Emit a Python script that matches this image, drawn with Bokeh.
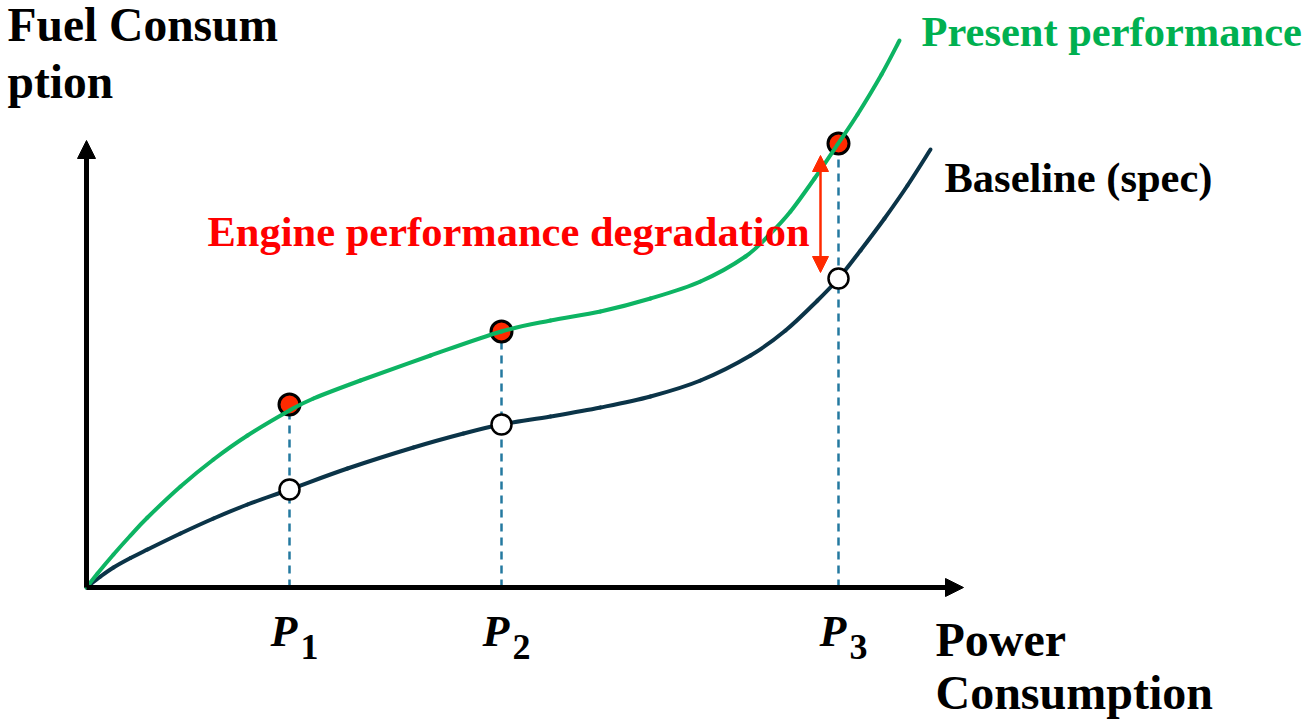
import numpy as np
from bokeh.plotting import figure
from bokeh.models import Range1d, Arrow, NormalHead
from bokeh.core.properties import value
from bokeh.embed import file_html
from bokeh.resources import INLINE

# ---- data (power on x, fuel consumption on y; origin at axes corner) ----
baseline_x = [0, 14, 27, 44, 61, 94, 127, 161, 203, 261, 327, 377, 415, 464, 514,
              564, 614, 664, 699, 731, 752, 774, 798, 821, 844]
baseline_y = [0, 11, 20, 29.5, 38, 54, 69, 83, 98, 119, 140, 154, 163, 171, 180,
              191, 207, 232, 257, 287, 309, 337, 369, 402, 438]

present_x = [0, 11, 27, 44, 61, 94, 127, 161, 203, 227, 274, 344, 415, 464, 514,
             564, 614, 659, 684, 704, 728, 751, 771, 795, 813]
present_y = [0, 14, 33, 52, 70, 101, 128, 152, 177, 189, 207, 232, 256, 267, 276,
             289, 306, 331, 354, 376, 409, 443, 473, 513, 547]

p_x = [203, 415, 752]
p_baseline = [98, 163, 309]
p_present = [183, 256, 444]
p_main = ["P", "P", "P"]
p_sub = ["1", "2", "3"]

x_axis_end = 877
y_axis_end = 447
gap_x = 734
gap_low = 315
gap_high = 432

FONT = value("Liberation Serif")
GREEN_TXT = "#00B050"
GREEN_LINE = "#0DB463"
NAVY = "#0B3448"
RED = "#FF2A00"
DASH = "#2479A0"

p = figure(width=1306, height=721, output_backend="svg", toolbar_location=None,
           x_range=Range1d(-86, 1220), y_range=Range1d(-134, 587),
           min_border=0, min_border_left=0, min_border_right=0,
           min_border_top=0, min_border_bottom=0)
p.axis.visible = False
p.grid.visible = False
p.outline_line_color = None
p.background_fill_color = "white"
p.border_fill_color = "white"


def smooth_curve(xs, ys, color):
    """Draw a smooth curve through the read points (Catmull-Rom as cubic Beziers)."""
    pts = np.column_stack([xs, ys]).astype(float)
    ext = np.vstack([pts[0], pts, pts[-1]])
    p0 = ext[1:-2]
    p1 = ext[2:-1]
    c0 = p0 + (ext[2:-1] - ext[0:-3]) / 6.0
    c1 = p1 - (ext[3:] - ext[1:-2]) / 6.0
    p.bezier(x0=p0[:, 0], y0=p0[:, 1], x1=p1[:, 0], y1=p1[:, 1],
             cx0=c0[:, 0], cy0=c0[:, 1], cx1=c1[:, 0], cy1=c1[:, 1],
             line_color=color, line_width=4, line_cap="round")


# dashed guide lines
p.segment(x0=p_x, y0=[0, 0, 0], x1=p_x, y1=p_present, line_color=DASH,
          line_width=2.5, line_dash="8 6")

# axes with arrows
p.add_layout(Arrow(x_start=0, y_start=0, x_end=x_axis_end, y_end=0, line_width=5,
                   line_color="black",
                   end=NormalHead(size=18, fill_color="black", line_color="black", line_width=1)))
p.add_layout(Arrow(x_start=0, y_start=0, x_end=0, y_end=y_axis_end, line_width=5,
                   line_color="black",
                   end=NormalHead(size=18, fill_color="black", line_color="black", line_width=1)))

# baseline curve + open markers
smooth_curve(baseline_x, baseline_y, NAVY)
p.scatter(p_x, p_baseline, marker="circle", size=20, fill_color="white",
          line_color="black", line_width=2.5)

# present markers + curve
p.scatter(p_x, p_present, marker="circle", size=21, fill_color=RED,
          line_color="black", line_width=3)
smooth_curve(present_x, present_y, GREEN_LINE)

# degradation arrow
mid = (gap_low + gap_high) / 2
p.add_layout(Arrow(x_start=gap_x, y_start=mid, x_end=gap_x, y_end=gap_high,
                   line_width=2.5, line_color=RED,
                   end=NormalHead(size=16, fill_color=RED, line_color=RED, line_width=1)))
p.add_layout(Arrow(x_start=gap_x, y_start=mid, x_end=gap_x, y_end=gap_low,
                   line_width=2.5, line_color=RED,
                   end=NormalHead(size=16, fill_color=RED, line_color=RED, line_width=1)))


def txt(x, y, s, size, color="black", style="bold"):
    p.text(x=[x], y=[y], text=[s], text_font=FONT, text_font_style=style,
           text_font_size=size, text_color=color, text_baseline="alphabetic",
           text_align="left")


txt(-79, 563, "Fuel Consum", "47.5px")
txt(-79, 506, "ption", "47.5px")
txt(835, 556, "Present performance", "42.5px", GREEN_TXT)
txt(858, 410, "Baseline (spec)", "42.5px")
txt(121, 356, "Engine performance degradation", "42.5px", "#FF0000")
txt(849, -52, "Power", "48px")
txt(849, -105, "Consumption", "48px")

# P labels
p.text(x=[v - 19 for v in p_x], y=[-44] * 3, text=p_main, text_font=FONT,
       text_font_style="bold italic", text_font_size="44px", text_color="black",
       text_baseline="alphabetic", text_align="left")
p.text(x=[v + 11 for v in p_x], y=[-59] * 3, text=p_sub, text_font=FONT,
       text_font_style="bold", text_font_size="36px", text_color="black",
       text_baseline="alphabetic", text_align="left")

open("out.html", "w").write(file_html(p, INLINE))
